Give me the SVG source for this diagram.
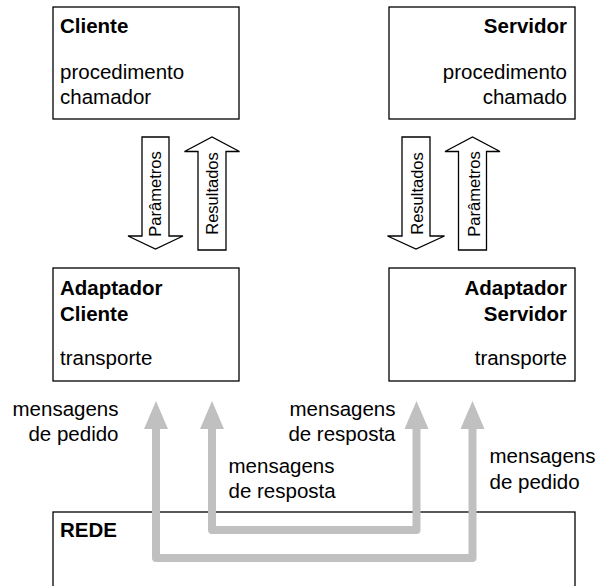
<svg xmlns="http://www.w3.org/2000/svg" width="597" height="586" viewBox="0 0 597 586">
<style>
.box{fill:#fff;stroke:#000;stroke-width:1.3}
.t{font-family:"Liberation Sans",Arial,sans-serif;font-size:20.5px;fill:#000}
.b{font-weight:bold}
.e{text-anchor:end}
.r{font-family:"Liberation Sans",Arial,sans-serif;font-size:16.5px;fill:#000;text-anchor:middle}
.ba{fill:#fff;stroke:#000;stroke-width:1.3;stroke-linejoin:miter}
.g{fill:none;stroke:#c0c0c0;stroke-width:8;stroke-linejoin:round;marker-start:url(#gh);marker-end:url(#gh)}
</style>
<defs>
<marker id="gh" viewBox="0 0 28 24" refX="1" refY="12" markerWidth="28" markerHeight="24" markerUnits="userSpaceOnUse" orient="auto-start-reverse">
<path d="M0,0 L28,12 L0,24 z" fill="#c0c0c0"/>
</marker>
</defs>
<rect width="597" height="586" fill="#fff"/>
<g id="cliente">
<rect class="box" x="53" y="7" width="186" height="112"/>
<text class="t b" x="60" y="33">Cliente</text>
<text class="t" x="60" y="79">procedimento</text>
<text class="t" x="60" y="104">chamador</text>
</g>
<g id="servidor">
<rect class="box" x="389" y="7" width="186" height="112"/>
<text class="t b e" x="567" y="33">Servidor</text>
<text class="t e" x="567" y="79">procedimento</text>
<text class="t e" x="567" y="104">chamado</text>
</g>
<g id="adaptador-cliente">
<rect class="box" x="53" y="268" width="186" height="113"/>
<text class="t b" x="60" y="295">Adaptador</text>
<text class="t b" x="60" y="320.5">Cliente</text>
<text class="t" x="60" y="365">transporte</text>
</g>
<g id="adaptador-servidor">
<rect class="box" x="389" y="268" width="186" height="113"/>
<text class="t b e" x="567" y="295">Adaptador</text>
<text class="t b e" x="567" y="320.5">Servidor</text>
<text class="t e" x="567" y="365">transporte</text>
</g>
<g id="rede">
<rect class="box" x="53" y="512" width="522" height="100"/>
<text class="t b" x="60" y="537">REDE</text>
</g>
<g id="connectors">
<g id="cli-parametros">
<polygon class="ba" points="142,137 169,137 169,236 183,236 155.5,249 128,236 142,236"/>
<text class="r" transform="translate(161,194) rotate(-90)">Parâmetros</text>
</g>
<g id="cli-resultados">
<polygon class="ba" points="198,250 226,250 226,151.5 239.5,151.5 212,137 184.5,151.5 198,151.5"/>
<text class="r" transform="translate(218,193.5) rotate(-90)">Resultados</text>
</g>
<g id="srv-resultados">
<polygon class="ba" points="402,137 430,137 430,236 444.5,236 416,249 387.5,236 402,236"/>
<text class="r" transform="translate(423,193.5) rotate(-90)">Resultados</text>
</g>
<g id="srv-parametros">
<polygon class="ba" points="458.5,250 486.5,250 486.5,151.5 500,151.5 472.5,137 445,151.5 458.5,151.5"/>
<text class="r" transform="translate(480,194) rotate(-90)">Parâmetros</text>
</g>
<path class="g" d="M156,428 V558 H472.5 V428"/>
<path class="g" d="M212,428 V530 H416.5 V428"/>
<text class="t e" x="118.5" y="415.7">mensagens</text>
<text class="t e" x="118.5" y="440.7">de pedido</text>
<text class="t e" x="395.5" y="415.7">mensagens</text>
<text class="t e" x="395.5" y="440.7">de resposta</text>
<text class="t" x="228.5" y="472.7">mensagens</text>
<text class="t" x="228.5" y="498">de resposta</text>
<text class="t" x="489.5" y="463.3">mensagens</text>
<text class="t" x="489.5" y="488.5">de pedido</text>
</g>
</svg>
